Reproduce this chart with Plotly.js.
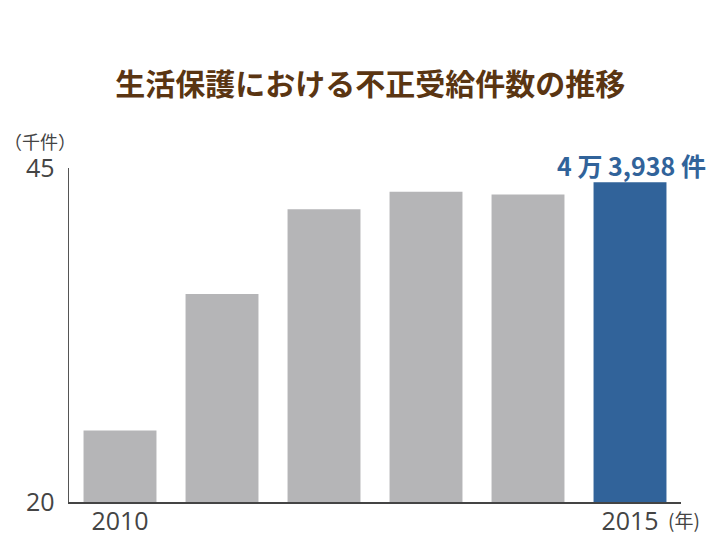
<!DOCTYPE html>
<html><head><meta charset="utf-8">
<script src="https://cdn.plot.ly/plotly-3.0.1.min.js"></script>
<style>body{margin:0;background:#fff}#c{width:726px;height:545px}</style>
</head><body><div id="c"></div>
<script>
const years = ['2010','2011','2012','2013','2014','2015'];
const cases = [25.355, 35.568, 41.909, 43.230, 43.021, 43.938];
const barColors = ['#b5b5b7','#b5b5b7','#b5b5b7','#b5b5b7','#b5b5b7','#31639a'];
const xTickText = ['2010','','','','','2015'];
const yTicks = [20, 45];
const titleText = '生活保護における不正受給件数の推移';
const highlightLabel = '4 万 3,938 件';

const F = '"Noto Sans CJK JP", "Noto Sans", sans-serif';
const FN = '"Open Sans", "Noto Sans CJK JP", sans-serif';
const data = [{
  type:'bar', x: years, y: cases, marker:{color: barColors}, hoverinfo:'none'
}];
const layout = {
  width:726, height:545,
  margin:{l:69, r:45, t:168, b:43},
  paper_bgcolor:'#fff', plot_bgcolor:'#fff',
  bargap:0.285,
  showlegend:false,
  title:{text:titleText, font:{family:F, size:30, color:'#5a3512', weight:'bold'}, x:0.51, xanchor:'center', y:0.845, yanchor:'middle'},
  xaxis:{type:'category', range:[-0.5, 5.5], tickvals: years, ticktext: xTickText, tickangle:0, showline:true, linecolor:'#444', linewidth:1.5,
    ticks:'', showgrid:false, zeroline:false, tickfont:{family:FN, size:25, color:'#444'}, ticklabelstandoff:-4, fixedrange:true},
  yaxis:{range:[20,45], tickvals:yTicks, ticktext:yTicks.map(String), showline:true, linecolor:'#555', linewidth:1.5,
    ticks:'', showgrid:false, zeroline:false, tickfont:{family:FN, size:25, color:'#444'}, ticklabelstandoff:8, fixedrange:true},
  annotations:[
    {text:'（千件）', xref:'paper', yref:'paper', x:-0.11, y:1.035, xanchor:'left', yanchor:'bottom', showarrow:false,
      font:{family:F, size:18, color:'#444'}},
    {text:'(年)', xref:'paper', yref:'paper', x:0.975, y:-0.005, xanchor:'left', yanchor:'top', showarrow:false,
      font:{family:F, size:19, color:'#444'}},
    {text:highlightLabel, x:5, y:cases[5], xref:'x', yref:'y', yanchor:'bottom', xanchor:'center', xshift:1, yshift:-3, showarrow:false,
      font:{family:F, size:25, color:'#31639a', weight:'bold'}}
  ]
};
Plotly.newPlot('c', data, layout, {displayModeBar:false, staticPlot:true});
</script></body></html>
